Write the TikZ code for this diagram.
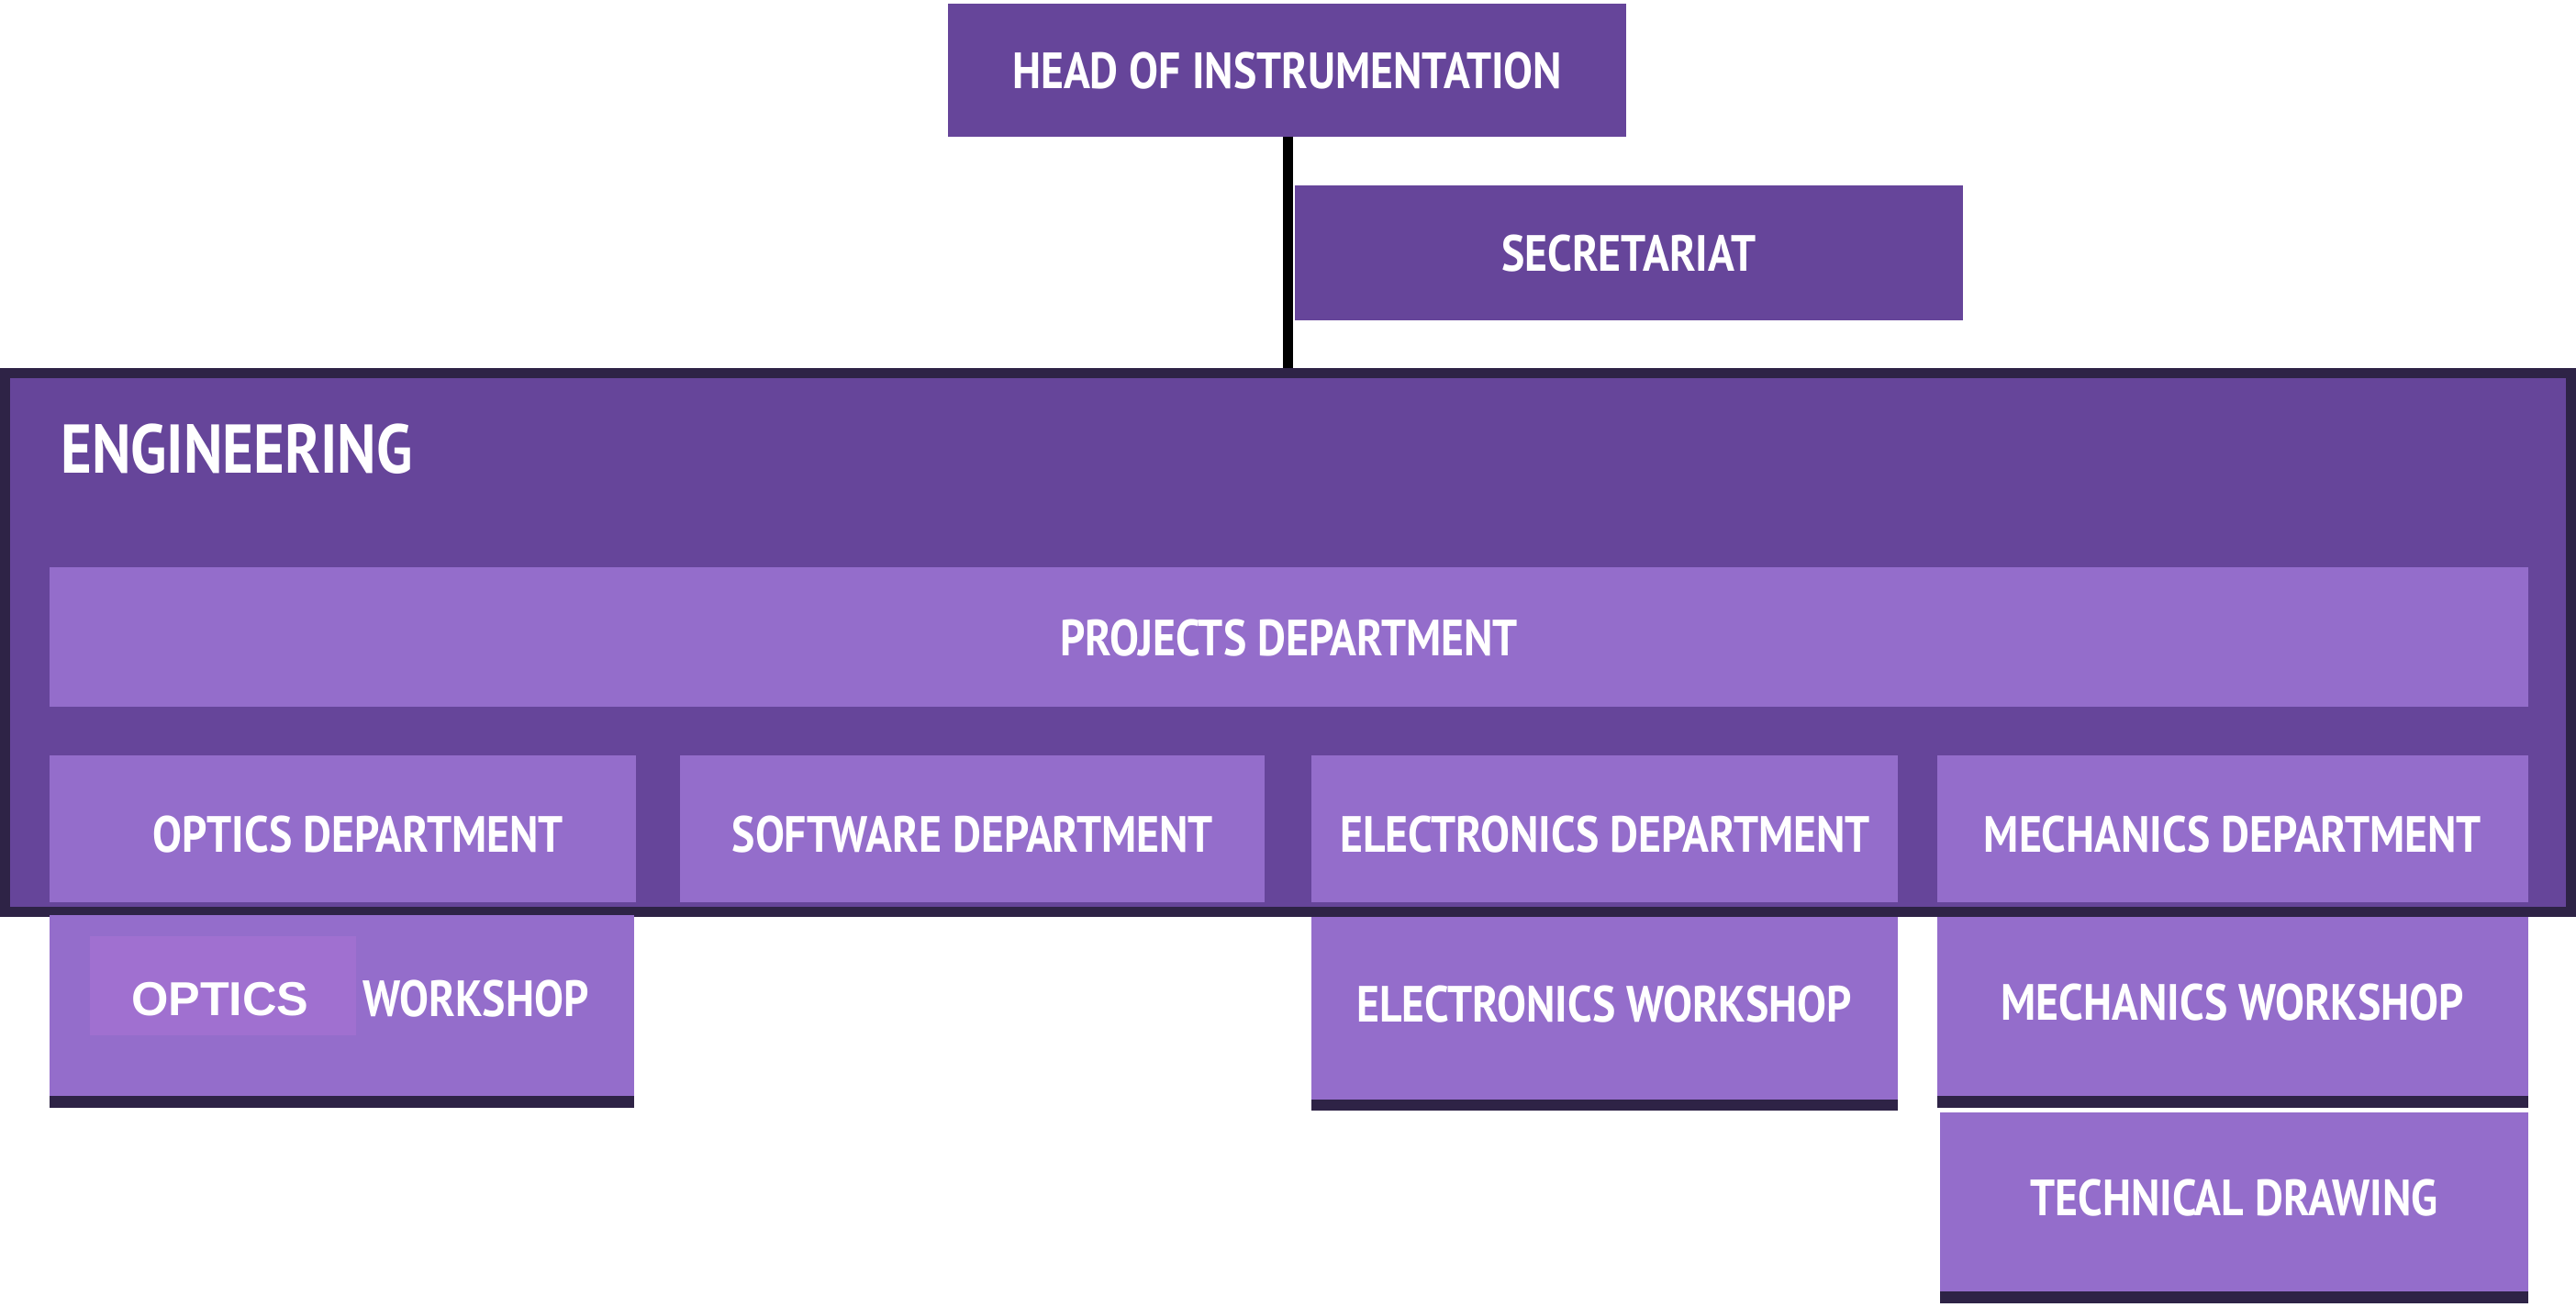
\documentclass[tikz,border=0pt]{standalone}
\usepackage{fontspec}
\setmainfont{PT Sans}[FakeStretch=0.86]
\newfontfamily\arialf{Liberation Sans}
\definecolor{dk}{HTML}{66459A}
\definecolor{lt}{HTML}{946DCB}
\definecolor{bd}{HTML}{2E2346}
\definecolor{opt}{HTML}{A070D0}
\begin{document}
\begin{tikzpicture}[x=0.5pt,y=-0.5pt,
  lbl/.style={text=white,font=\fontsize{15.5}{18}\selectfont\bfseries},
  lbox/.style={fill=lt},
  sbar/.style={fill=bd}]
\useasboundingbox (0,0) rectangle (1568,795);
% head
\fill[dk] (577,2) rectangle (990,83);
\node[lbl] (head) at (783.5,43) {HEAD OF INSTRUMENTATION};
\fill[dk] (788,113) rectangle (1195,195);
\node[lbl] (sec) at (991.5,154) {SECRETARIAT};
\draw[line width=3pt] (784,83) -- (784,226);
% engineering
\draw[fill=dk,draw=bd,line width=3pt] (3,227) rectangle (1565,555);
\node[text=white,font=\fontsize{21}{24}\selectfont\bfseries,anchor=west] (eng) at (30,273) {ENGINEERING};
\fill[lbox] (30,345) rectangle (1539,430);
\node[lbl] (proj) at (784.5,388) {PROJECTS DEPARTMENT};
\fill[lbox] (30,460) rectangle (387,549);
\node[lbl] (od) at (218,508) {OPTICS DEPARTMENT};
\fill[lbox] (414,460) rectangle (770,549);
\node[lbl] (sd) at (592,508) {SOFTWARE DEPARTMENT};
\fill[lbox] (798,460) rectangle (1155,549);
\node[lbl] (ed) at (977,508) {ELECTRONICS DEPARTMENT};
\fill[lbox] (1179,460) rectangle (1539,549);
\node[lbl] (md) at (1359,508) {MECHANICS DEPARTMENT};
% workshops
\fill[lbox] (30,557) rectangle (386,667);
\fill[sbar] (30,667) rectangle (386,674);
\fill[opt] (55,570) rectangle (217,630);
\node[text=white,font=\arialf\fontsize{14.5}{17}\selectfont\bfseries] (ow1) at (134,608) {OPTICS};
\node[lbl,anchor=west] (ow2) at (214,608) {WORKSHOP};
\fill[lbox] (798,558) rectangle (1155,669);
\fill[sbar] (798,669) rectangle (1155,676);
\node[lbl] (ew) at (976.5,611) {ELECTRONICS WORKSHOP};
\fill[lbox] (1179,558) rectangle (1539,667);
\fill[sbar] (1179,667) rectangle (1539,674);
\node[lbl] (mw) at (1359,610) {MECHANICS WORKSHOP};
\fill[lbox] (1181,677) rectangle (1539,786);
\fill[sbar] (1181,786) rectangle (1539,793);
\node[lbl] (td) at (1360,729) {TECHNICAL DRAWING};
\end{tikzpicture}
\end{document}
